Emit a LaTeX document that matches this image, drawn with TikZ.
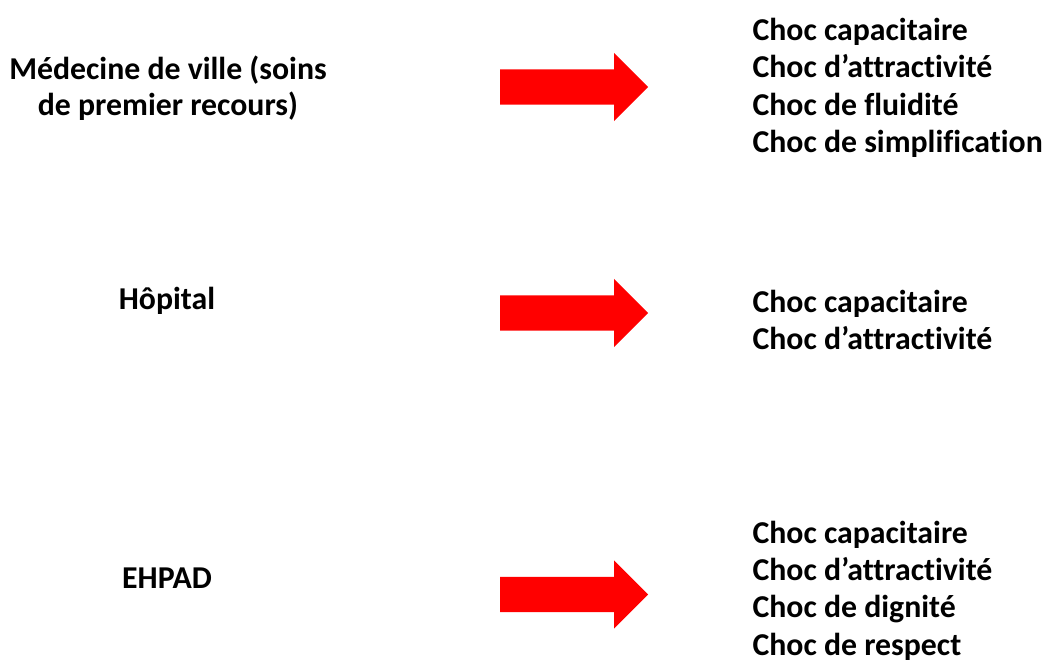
\documentclass[tikz,border=0pt]{standalone}
\usepackage{fontspec}
\setmainfont[Ligatures={NoCommon}]{Carlito}
\usetikzlibrary{shapes.arrows,positioning}
\definecolor{shockred}{RGB}{255,0,0}

\begin{document}
\begin{tikzpicture}[
 x=1pt, y=-1pt,
 sector/.style={align=center, font=\fontsize{31.8}{36.5}\selectfont\bfseries},
 shocks/.style={align=left, anchor=west, font=\fontsize{31.8}{37.4}\selectfont\bfseries},
 bigarrow/.style={single arrow, fill=shockred, draw=none, inner xsep=0pt, inner ysep=17.5pt,
  minimum height=148pt, single arrow head extend=16.5pt, single arrow tip angle=90, anchor=west}
]
\useasboundingbox (0,0) rectangle (1048,663);

% Sectors
\node[sector] (ville) at (168,88) {Médecine de ville (soins\\de premier recours)};
\node[sector] (hopital) at (167,301) {Hôpital};
\node[sector] (ehpad) at (167,578) {EHPAD};

% Arrows
\node[bigarrow] (arr_ville) at (500,87) {};
\node[bigarrow] (arr_hopital) at (500,313) {};
\node[bigarrow] (arr_ehpad) at (500,594.5) {};

% Shocks
\node[shocks] (chocs_ville) at (749,88) {Choc capacitaire\\Choc d’attractivité\\Choc de fluidité\\Choc de simplification};
\node[shocks] (chocs_hopital) at (749,320) {Choc capacitaire\\Choc d’attractivité};
\node[shocks] (chocs_ehpad) at (749,590.5) {Choc capacitaire\\Choc d’attractivité\\Choc de dignité\\Choc de respect};

\end{tikzpicture}
\end{document}
